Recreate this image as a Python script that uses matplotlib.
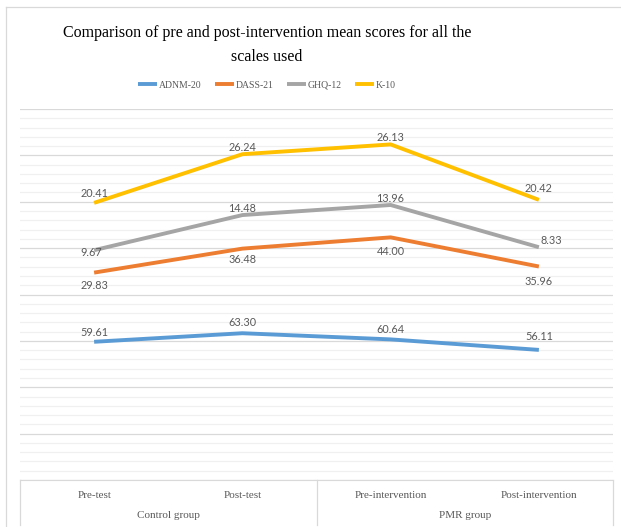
import numpy as np
import matplotlib.pyplot as plt
from matplotlib.lines import Line2D
from matplotlib.ticker import MultipleLocator

phases = ["Pre-test", "Post-test", "Pre-intervention", "Post-intervention"]
groups = ["Control group", "PMR group"]
series = ["ADNM-20", "DASS-21", "GHQ-12", "K-10"]
adnm = [59.61, 63.30, 60.64, 56.11]
dass = [29.83, 36.48, 44.00, 35.96]
ghq = [9.67, 14.48, 13.96, 8.33]
k10 = [20.41, 26.24, 26.13, 20.42]

colors = ["#5B9BD5", "#ED7D31", "#A5A5A5", "#FFC000"]
# label offsets in points (dx, dy) per series and point
label_offsets = [
    [(0, 7), (0, 8), (0, 7), (0, 10)],
    [(0, -9), (0, -8), (0, -10), (0, -11)],
    [(-2, -2), (0, 5), (0, 5), (9, 5)],
    [(0, 7), (0, 5), (0, 5), (0, 8)],
]

W, H = 621, 527
fig = plt.figure(figsize=(W / 100, H / 100), dpi=100)
ax = fig.add_axes([20 / W, (H - 480) / H, 593 / W, 371 / H])

x = np.arange(len(phases))
values = np.array([adnm, dass, ghq, k10])
stacked = np.cumsum(values, axis=0)

for i, name in enumerate(series):
    ax.plot(x, stacked[i], color=colors[i], lw=2.8, solid_capstyle="butt", label=name, zorder=3)
    for j in range(len(x)):
        dx, dy = label_offsets[i][j]
        ax.annotate(f"{values[i][j]:.2f}", (x[j], stacked[i][j]), xytext=(dx, dy),
                    textcoords="offset points", ha="center", va="center",
                    fontsize=7.8, family="Lato", color="#595959", zorder=4)

ax.set_xlim(-0.5, 3.5)
ax.set_ylim(0, 160)
ax.yaxis.set_major_locator(MultipleLocator(20))
ax.yaxis.set_minor_locator(MultipleLocator(4))
ax.grid(which="major", axis="y", color="#d9d9d9", lw=0.9)
ax.grid(which="minor", axis="y", color="#f0f0f0", lw=0.9)
ax.set_axisbelow(True)
for s in ["left", "right", "top"]:
    ax.spines[s].set_visible(False)
ax.spines["bottom"].set_color("#d9d9d9")
ax.tick_params(which="both", left=False, bottom=False, labelleft=False, labelbottom=False)

# category table below the axis
tr = ax.get_xaxis_transform()
depth = -45 / 371
for xv in [-0.5, 1.5, 3.5]:
    ax.add_line(Line2D([xv, xv], [0, depth], transform=tr, color="#d9d9d9", lw=0.9, clip_on=False))
for j, p in enumerate(phases):
    ax.text(j, -16 / 371, p, transform=tr, ha="center", va="center",
            family="Liberation Serif", fontsize=8, color="#595959")
for g, gx in zip(groups, [0.5, 2.5]):
    ax.text(gx, -36 / 371, g, transform=tr, ha="center", va="center",
            family="Liberation Serif", fontsize=8, color="#595959")

# outer chart border (left and top)
fig.add_artist(Line2D([6 / W, 6 / W], [0, 1 - 7 / H], color="#d9d9d9", lw=0.9))
fig.add_artist(Line2D([6 / W, 1], [1 - 7 / H, 1 - 7 / H], color="#d9d9d9", lw=0.9))

fig.text(267 / W, 1 - 45 / H, "Comparison of pre and post-intervention mean scores for all the\nscales used",
         ha="center", va="center", family="Liberation Serif", fontsize=11.5, linespacing=1.6)

fig.legend(loc="center", bbox_to_anchor=(267 / W, 1 - 85 / H), ncol=4, frameon=False,
           prop={"family": "Liberation Serif", "size": 7}, labelcolor="#595959",
           handlelength=2.0, handletextpad=0.2, columnspacing=1.3)

fig.savefig("out.png", dpi=100)
